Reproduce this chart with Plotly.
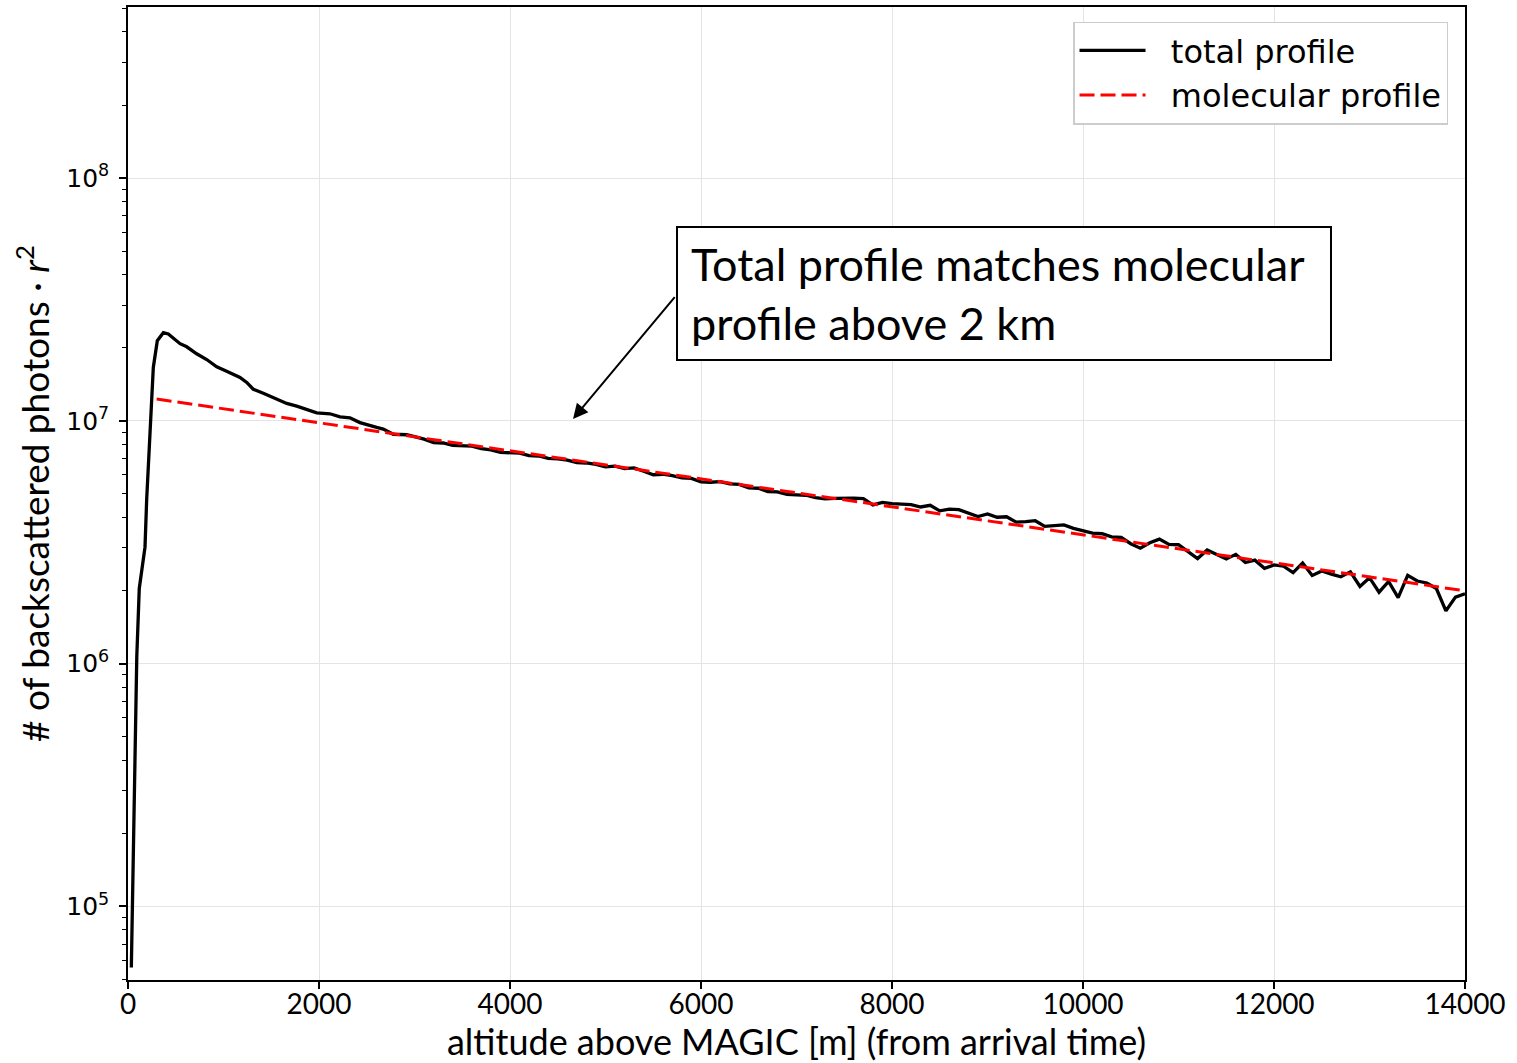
import plotly.graph_objects as go

# ---- data ----
total_alt = [35, 60, 80, 92, 118, 178, 196, 230, 265, 307, 370, 422, 545, 615, 719, 824, 929,
             1033, 1173, 1243, 1312, 1417, 1521, 1662, 1767, 1871, 1976, 2115, 2220, 2324,
             2429, 2604, 2673, 2778, 2918, 3000,
             3100, 3200, 3300, 3400, 3500, 3600, 3700, 3800, 3900, 4000,
             4100, 4200, 4300, 4400, 4500, 4600, 4700, 4800, 4900, 5000,
             5100, 5200, 5300, 5400, 5500, 5600, 5700, 5800, 5900, 6000,
             6100, 6200, 6300, 6400, 6500, 6600, 6700, 6800, 6900, 7000,
             7100, 7200, 7300, 7400, 7500, 7600, 7700, 7800, 7900, 8000,
             8100, 8200, 8300, 8400, 8500, 8600, 8700, 8800, 8900, 9000,
             9100, 9200, 9300, 9400, 9500, 9600, 9700, 9800, 9900, 10000,
             10100, 10200, 10300, 10400, 10500, 10600, 10700, 10800, 10900, 11000,
             11100, 11200, 11300, 11400, 11500, 11600, 11700, 11800, 11900, 12000,
             12100, 12200, 12300, 12400, 12500, 12600, 12700, 12800, 12900, 13000,
             13100, 13200, 13300, 13400, 13500, 13600, 13700, 13800, 13900, 14000]

total_photons = [5.6e4, 2.5e5, 7.1e5, 1.07e6, 2.04e6, 3.02e6, 4.79e6, 9.55e6, 1.66e7, 2.14e7,
                 2.31e7, 2.28e7, 2.08e7, 2.02e7, 1.89e7, 1.79e7, 1.67e7, 1.60e7, 1.51e7, 1.44e7,
                 1.35e7, 1.30e7, 1.25e7, 1.18e7, 1.15e7, 1.11e7, 1.08e7, 1.07e7, 1.04e7, 1.03e7,
                 9.84e6, 9.40e6, 9.25e6, 8.81e6, 8.77e6, 8.61e6,
                 8.41e6, 8.14e6, 8.11e6, 7.93e6, 7.90e6, 7.87e6, 7.69e6, 7.59e6, 7.42e6, 7.39e6,
                 7.37e6, 7.20e6, 7.17e6, 7.01e6, 6.98e6, 6.89e6, 6.74e6, 6.71e6, 6.62e6, 6.47e6,
                 6.51e6, 6.36e6, 6.40e6, 6.20e6, 6.00e6, 6.03e6, 5.95e6, 5.82e6, 5.80e6, 5.61e6,
                 5.59e6, 5.62e6, 5.50e6, 5.48e6, 5.30e6, 5.28e6, 5.12e6, 5.10e6, 4.98e6, 4.96e6,
                 4.94e6, 4.83e6, 4.77e6, 4.80e6, 4.82e6, 4.81e6, 4.79e6, 4.51e6, 4.62e6, 4.56e6,
                 4.54e6, 4.52e6, 4.42e6, 4.49e6, 4.26e6, 4.33e6, 4.31e6, 4.18e6, 4.04e6, 4.14e6,
                 4.01e6, 4.03e6, 3.83e6, 3.85e6, 3.88e6, 3.68e6, 3.70e6, 3.73e6, 3.61e6, 3.53e6,
                 3.45e6, 3.43e6, 3.33e6, 3.31e6, 3.12e6, 2.99e6, 3.15e6, 3.26e6, 3.10e6, 3.09e6,
                 2.88e6, 2.71e6, 2.94e6, 2.82e6, 2.70e6, 2.82e6, 2.61e6, 2.67e6, 2.47e6, 2.55e6,
                 2.52e6, 2.37e6, 2.60e6, 2.31e6, 2.41e6, 2.34e6, 2.28e6, 2.39e6, 2.08e6, 2.26e6,
                 1.97e6, 2.18e6, 1.87e6, 2.31e6, 2.19e6, 2.15e6, 2.04e6, 1.65e6, 1.88e6, 1.94e6]

mol_alt = [300, 1000, 2000, 3000, 4000, 5000, 6000, 7000, 8000, 9000, 10000,
           11000, 12000, 13000, 14000]
mol_photons = [1.231e7, 1.122e7, 9.83e6, 8.60e6, 7.53e6, 6.60e6, 5.78e6, 5.06e6, 4.43e6,
               3.88e6, 3.40e6, 2.97e6, 2.60e6, 2.28e6, 1.995e6]

x_ticks = [0, 2000, 4000, 6000, 8000, 10000, 12000, 14000]
y_major = [1e5, 1e6, 1e7, 1e8]
y_major_text = ["10<sup>5</sup>", "10<sup>6</sup>", "10<sup>7</sup>", "10<sup>8</sup>"]
y_minor = [m * 10 ** e for e in range(4, 9) for m in range(2, 10)]

SANS = "Lato, 'Open Sans', sans-serif"
DJV = "DejaVu Sans"
NB = "\u00a0\u00a0"

fig = go.Figure()
fig.add_trace(go.Scatter(x=total_alt, y=total_photons, mode="lines", name=NB + "total profile",
                         line=dict(color="black", width=3.3)))
fig.add_trace(go.Scatter(x=mol_alt, y=mol_photons, mode="lines", name=NB + "molecular profile",
                         line=dict(color="#ff0000", width=3, dash="15px,6px")))

grid_c = "#e4e4e4"
fig.update_layout(
    width=1517, height=1063,
    margin=dict(l=128, r=52, t=5, b=80),
    paper_bgcolor="white", plot_bgcolor="white",
    showlegend=True,
    legend=dict(x=0.9873, y=0.985, xanchor="right", yanchor="top",
                font=dict(family=DJV, size=32, color="black"),
                bgcolor="white", bordercolor="#cccccc", borderwidth=1.5,
                itemwidth=66, tracegroupgap=4),
    xaxis=dict(range=[0, 14000], tickvals=x_ticks, ticktext=[str(v) for v in x_ticks],
               ticks="outside", ticklen=7, tickwidth=1.5, tickcolor="black",
               showline=True, linecolor="black", linewidth=1.5, mirror=True,
               showgrid=True, gridcolor=grid_c, gridwidth=1.3, zeroline=False,
               tickfont=dict(family=SANS, size=28, color="black"),
               ticklabelstandoff=-8,
               title=dict(text="altitude above MAGIC [m] (from arrival time)",
                          font=dict(family=SANS, size=36, color="black"), standoff=12)),
    yaxis=dict(type="log", range=[4.697, 8.705], tickvals=y_major, ticktext=y_major_text,
               ticks="outside", ticklen=7, tickwidth=1.5, tickcolor="black",
               showline=True, linecolor="black", linewidth=1.5, mirror=True,
               showgrid=True, gridcolor=grid_c, gridwidth=1.3, zeroline=False,
               tickfont=dict(family=DJV, size=25, color="black"),
               ticklabelstandoff=5,
               minor=dict(tickmode="array", tickvals=y_minor, ticks="outside", ticklen=4,
                          tickwidth=1.2, tickcolor="black", showgrid=False),
               title=dict(text="# of backscattered photons · <i>r</i><sup>2</sup>",
                          font=dict(family=SANS, size=37, color="black"), standoff=5)),
)

# text box
fig.add_annotation(x=5738, y=7.803, xref="x", yref="y", xanchor="left", yanchor="top",
                   text="Total profile matches molecular<br>profile above 2 km",
                   align="left", valign="middle", showarrow=False,
                   width=626, height=105,
                   font=dict(family=SANS, size=45, color="black"),
                   bgcolor="white", bordercolor="black", borderwidth=2, borderpad=13)
# arrow
fig.add_annotation(x=4660, y=7.008, xref="x", yref="y", ax=5738, ay=7.516,
                   axref="x", ayref="y", text="", showarrow=True,
                   arrowhead=2, arrowsize=1.5, arrowwidth=2, arrowcolor="black")

fig.write_html("out.html")
